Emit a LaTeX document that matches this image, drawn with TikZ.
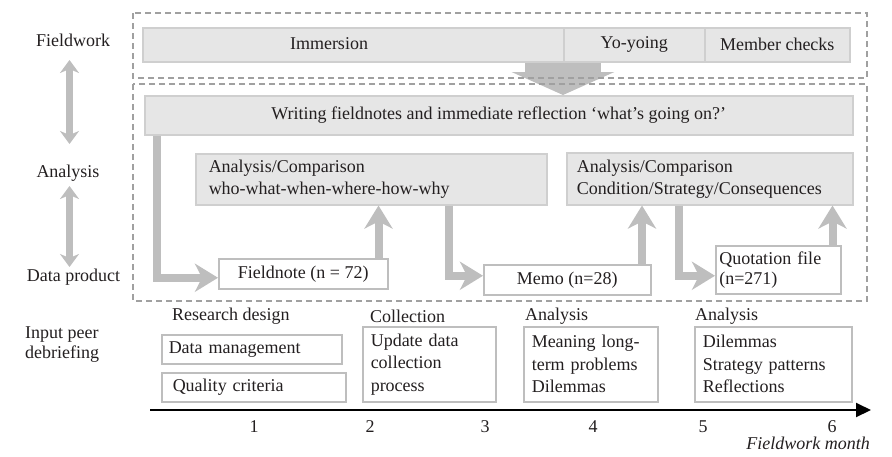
\documentclass[tikz,border=0pt]{standalone}
\usepackage{fontspec}
\setmainfont{Liberation Serif}
\usetikzlibrary{arrows.meta}
\definecolor{txt}{HTML}{231F20}
\definecolor{barfill}{HTML}{E6E6E6}
\definecolor{barline}{HTML}{CFCFCF}
\definecolor{arrgray}{HTML}{BEBEBE}
\definecolor{dashgray}{HTML}{A0A0A0}
\begin{document}
\begin{tikzpicture}[x=1pt,y=-1pt,
  every node/.style={font=\fontsize{18}{22}\selectfont, text=txt},
  bar/.style={draw=barline, fill=barfill, line width=1.5pt, inner sep=0pt, anchor=north west},
  wbox/.style={draw=arrgray, fill=white, line width=1.5pt, inner sep=0pt, anchor=north west},
  lbl/.style={inner sep=0pt},
  fat/.style={draw=arrgray, line width=8pt, -{Stealth[length=23pt,width=28pt,inset=7pt]}},
  dbl/.style={draw=arrgray, line width=7pt, {Stealth[length=13pt,width=19pt,inset=4pt]}-{Stealth[length=13pt,width=19pt,inset=4pt]}},
  dbox/.style={draw=dashgray, line width=1.3pt, dash pattern=on 6pt off 4pt},
]
\useasboundingbox (0,0) rectangle (892,456);

% left labels
\node[lbl] (fwl) at (73,40) {Fieldwork};
\node[lbl] (anl) at (68,173) {Analysis};
\node[lbl] (dpl) at (73.5,277) {Data product};
\coordinate (d1a) at (69.5,60);
\coordinate (d1b) at (69.5,144);
\coordinate (d2a) at (69.5,186);
\coordinate (d2b) at (69.5,267);
\draw[dbl] (d1a) -- (d1b);
\draw[dbl] (d2a) -- (d2b);

% top bars
\node[bar, minimum width=421pt, minimum height=34pt] (imm) at (142,27) {};
\node[lbl] (immt) at (329,44) {Immersion};
\node[bar, minimum width=141pt, minimum height=34pt] (yoyo) at (563,27) {Yo-yoing};
\node[bar, minimum width=145pt, minimum height=34pt] (mem) at (704,27) {Member checks};

\node[bar, minimum width=708pt, minimum height=39pt] (wr) at (144,95) {Writing fieldnotes and immediate reflection ‘what’s going on?’};

% big down arrow
\draw[draw=arrgray, line width=76pt, -{Triangle[length=23pt,width=102pt]}] (yoyo.south west) -- (yoyo.south west |- wr.north);

% analysis boxes
\node[bar, minimum width=351pt, minimum height=51pt, text width=325pt, inner xsep=13pt, align=left] (an1) at (195,153) {Analysis/Comparison\\who-what-when-where-how-why};
\node[bar, minimum width=286pt, minimum height=52pt, text width=266pt, inner xsep=10pt, align=left] (an2) at (566,152) {Analysis/Comparison\\Condition/Strategy/Consequences};

% data products
\node[wbox, minimum width=169pt, minimum height=30pt] (fn) at (218,258) {Fieldnote (n = 72)};
\node[wbox, minimum width=167pt, minimum height=30pt] (memo) at (483,264) {Memo (n=28)};
\node[wbox, minimum width=125pt, minimum height=48pt, text width=118pt, inner xsep=3.5pt, align=left, font=\fontsize{18}{20}\selectfont] (qf) at (715,245) {Quotation file\\(n=271)};

% flow arrows
\draw[fat] ([xshift=12.5pt]wr.south west) |- ([yshift=-4pt]fn.west);
\draw[fat] ([xshift=-10pt]fn.north east) -- ([xshift=-10pt]fn.north east |- an1.south);
\draw[fat] ([xshift=-99pt]an1.south east) |- ([yshift=4pt]memo.west);
\draw[fat] ([xshift=-9.5pt]memo.north east) -- ([xshift=-9.5pt]memo.north east |- an2.south);
\draw[fat] ([xshift=113pt]an2.south west) |- ([yshift=-6pt]qf.west);
\draw[fat] ([xshift=-9pt]qf.north east) -- ([xshift=-9pt]qf.north east |- an2.south);

% dashed frames
\draw[dbox] (133,13) rectangle (867,78);
\draw[dbox] (133,84) rectangle (867,301);

% peer debriefing
\node[lbl, anchor=west, align=left, font=\fontsize{18}{20}\selectfont] (ipd) at (25,345) {Input peer\\debriefing};
\node[lbl, anchor=west] (rd) at (172,316) {Research design};
\node[wbox, minimum width=173pt, minimum height=29pt, text width=166pt, inner xsep=7pt, align=left] (dm) at (161,334) {Data management};
\node[wbox, minimum width=173pt, minimum height=29pt, text width=162pt, inner xsep=11pt, align=left] (qc) at (161,372) {Quality criteria};
\node[lbl, anchor=west] (col) at (370,316) {Collection};
\node[wbox, minimum width=133pt, minimum height=75pt, text width=117pt, inner xsep=8pt, align=left, font=\fontsize{18}{22.5}\selectfont] (cb) at (362,326) {Update data\\collection\\process};
\node[lbl, anchor=west] (a3) at (525,316) {Analysis};
\node[wbox, minimum width=134pt, minimum height=75pt, text width=118pt, inner xsep=8pt, align=left, font=\fontsize{18}{22.5}\selectfont] (mb) at (523,326) {Meaning long-\\term problems\\Dilemmas};
\node[lbl, anchor=west] (a4) at (695,316) {Analysis};
\node[wbox, minimum width=157pt, minimum height=75pt, text width=141pt, inner xsep=8pt, align=left, font=\fontsize{18}{22.5}\selectfont] (db) at (694,326) {Dilemmas\\Strategy patterns\\Reflections};

% axis
\coordinate (axs) at (150,410);
\coordinate (axe) at (871,410);
\draw[line width=2pt, black, -{Triangle[length=15pt,width=14pt]}] (axs) -- (axe);
\node[lbl] (m1) at (254,427) {1};
\node[lbl] (m2) at (370,427) {2};
\node[lbl] (m3) at (485,427) {3};
\node[lbl] (m4) at (593,427) {4};
\node[lbl] (m5) at (703,427) {5};
\node[lbl] (m6) at (832,427) {6};
\node[lbl, anchor=east, font=\fontsize{18}{22}\selectfont\itshape] (fm) at (870,443) {Fieldwork month};
\end{tikzpicture}
\end{document}
